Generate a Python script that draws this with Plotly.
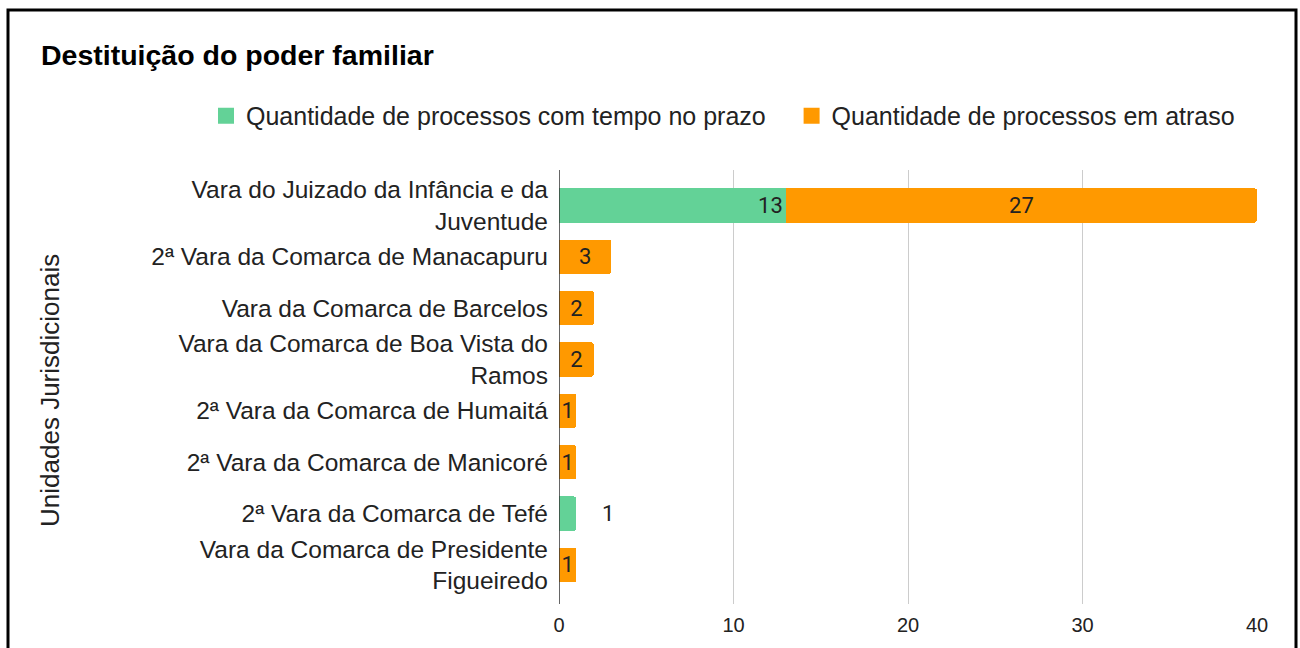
import plotly.graph_objects as go

categories = [
    "Vara do Juizado da Infância e da<br>Juventude",
    "2ª Vara da Comarca de Manacapuru",
    "Vara da Comarca de Barcelos",
    "Vara da Comarca de Boa Vista do<br>Ramos",
    "2ª Vara da Comarca de Humaitá",
    "2ª Vara da Comarca de Manicoré",
    "2ª Vara da Comarca de Tefé",
    "Vara da Comarca de Presidente<br>Figueiredo",
]
no_prazo = [13, None, None, None, None, None, 1, None]
em_atraso = [27, 3, 2, 2, 1, 1, None, 1]
x_ticks = [0, 10, 20, 30, 40]
series_names = [
    "Quantidade de processos com tempo no prazo",
    "Quantidade de processos em atraso",
]

GREEN = "#63d297"
ORANGE = "#ff9900"
FONT = "Liberation Sans, Arial, sans-serif"
LABEL_FONT = dict(family="Roboto, sans-serif", size=22, color="#222222")

W, H = 1300, 648
L, R, T, B = 559, 43, 170, 36
PW, PH = W - L - R, H - T - B


def px(x):
    return (x - L) / PW


def py(y):
    return (H - B - y) / PH


green_text = [str(v) if (v is not None and i != 6) else "" for i, v in enumerate(no_prazo)]
orange_text = [str(v) if v is not None else "" for v in em_atraso]

fig = go.Figure()
fig.add_trace(go.Bar(
    y=categories, x=no_prazo, orientation="h",
    name=series_names[0], showlegend=False,
    marker=dict(color=GREEN, line=dict(width=0)),
    text=green_text, textposition="inside", insidetextanchor="end",
    constraintext="none", textfont=LABEL_FONT,
    hoverinfo="x+y",
))
fig.add_trace(go.Bar(
    y=categories, x=em_atraso, orientation="h",
    name=series_names[1], showlegend=False,
    marker=dict(color=ORANGE, line=dict(width=0)),
    text=orange_text, textposition="inside", insidetextanchor="middle",
    constraintext="none", textfont=LABEL_FONT,
    hoverinfo="x+y",
))
# legend entries with large square swatches (extra gap after first entry)
legend_labels = [series_names[0] + "\u00a0\u00a0\u00a0", series_names[1]]
for name, color in zip(legend_labels, [GREEN, ORANGE]):
    fig.add_trace(go.Scatter(
        x=[None], y=[None], mode="markers", name=name,
        marker=dict(symbol="square", size=16, color=color),
        showlegend=True, hoverinfo="skip",
    ))

# outside label for the Tefé green bar
fig.add_annotation(
    x=no_prazo[6], y=categories[6], xref="x", yref="y",
    text=str(no_prazo[6]), showarrow=False, xanchor="center", xshift=32,
    font=LABEL_FONT,
)

# y-axis title
fig.add_annotation(
    x=px(50), y=py(395), xref="paper", yref="paper",
    text="Unidades Jurisdicionais", textangle=-90, showarrow=False,
    xanchor="center", yanchor="middle",
    font=dict(family=FONT, size=26, color="#222222"),
)

# outer frame
fig.add_shape(
    type="rect", xref="paper", yref="paper",
    x0=px(8), x1=px(1296), y0=py(680), y1=py(7),
    line=dict(color="black", width=3), fillcolor="rgba(0,0,0,0)", layer="above",
)

fig.update_layout(
    width=W, height=H,
    margin=dict(l=L, r=R, t=T, b=B, pad=0),
    paper_bgcolor="white", plot_bgcolor="white",
    barmode="stack", bargap=0.33, barcornerradius=3,
    title=dict(
        text="<b>Destituição do poder familiar</b>",
        x=41 / W, xref="container", xanchor="left",
        y=1 - 55 / H, yref="container", yanchor="middle",
        font=dict(family=FONT, size=28.5, color="#000000"),
    ),
    legend=dict(
        orientation="h", x=px(206), y=py(115), xanchor="left", yanchor="middle",
        xref="paper", yref="paper",
        font=dict(family=FONT, size=25, color="#222222"),
        itemsizing="trace", traceorder="normal",
        bgcolor="rgba(0,0,0,0)",
    ),
    xaxis=dict(
        range=[0, 40], tickvals=x_ticks, showgrid=True, gridcolor="#cccccc",
        gridwidth=1, zeroline=False, showline=False,
        tickfont=dict(family=FONT, size=20, color="#222222"),
        ticks="", ticklabelstandoff=7, fixedrange=True,
    ),
    yaxis=dict(
        categoryorder="array", categoryarray=categories,
        range=[7.76, -0.69], showgrid=False, zeroline=False,
        tickfont=dict(family=FONT, size=24.5, color="#222222"),
        ticks="", ticklabelstandoff=10, showline=False, fixedrange=True,
    ),
    showlegend=True,
)

# vertical baseline at x=0
fig.add_shape(
    type="line", xref="x", yref="paper", x0=0, x1=0, y0=0, y1=1,
    line=dict(color="#333333", width=1.5), layer="above",
)

fig.write_html("out.html")
